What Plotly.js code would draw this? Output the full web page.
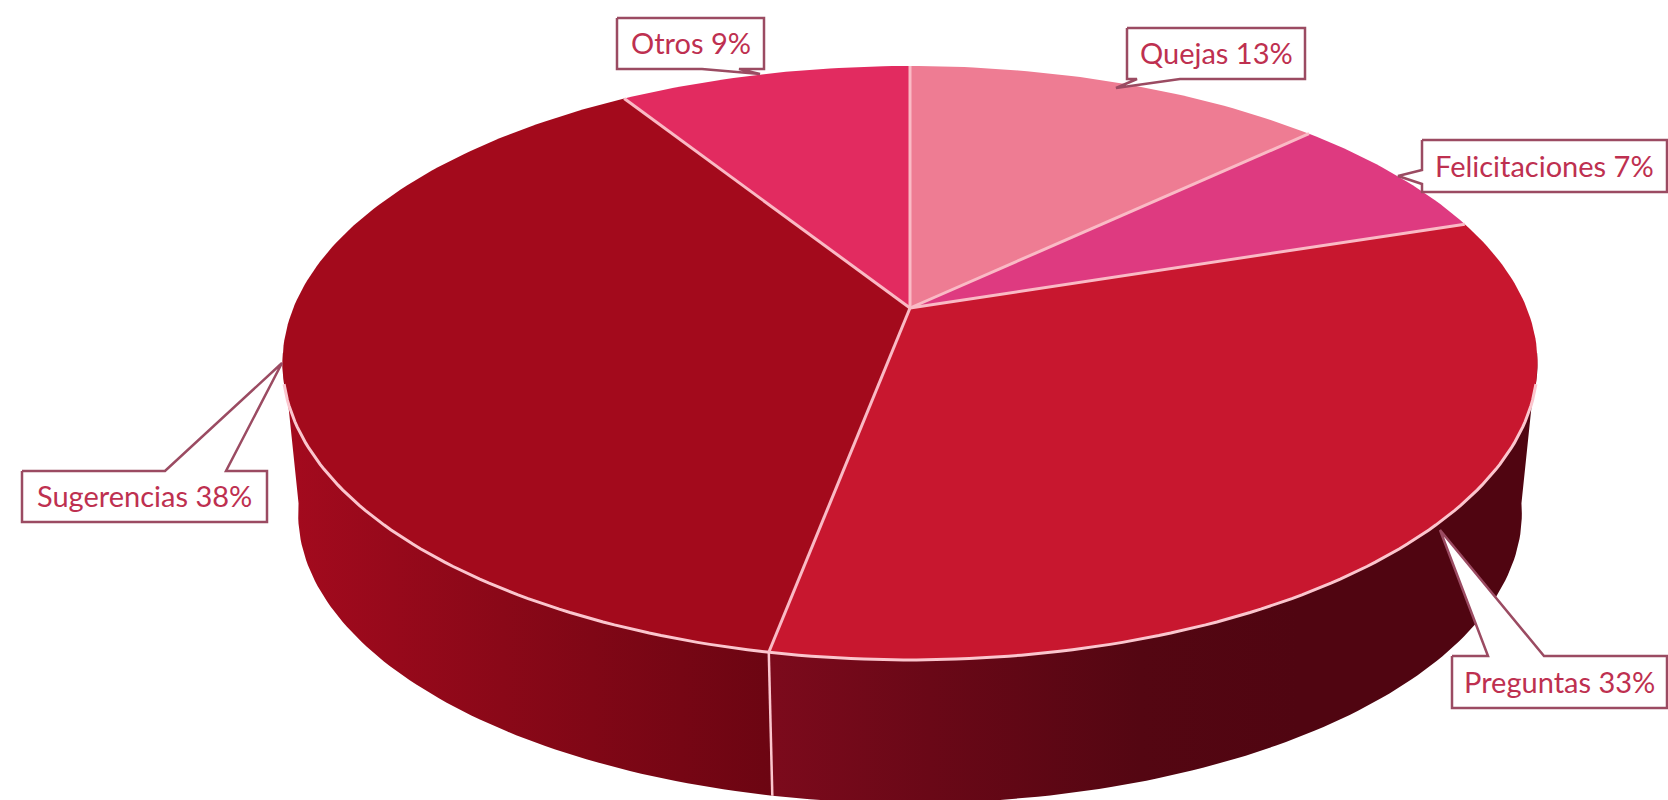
<!DOCTYPE html>
<html>
<head>
<meta charset="utf-8">
<script src="https://cdn.plot.ly/plotly-3.0.1.min.js"></script>
<style>html,body{margin:0;padding:0;background:#fff}#chart{width:1668px;height:800px}</style>
</head>
<body>
<div id="chart"></div>
<script>
// Data, clockwise from the top of the pie, starting at Quejas
const categories = ['Quejas', 'Felicitaciones', 'Preguntas', 'Sugerencias', 'Otros'];
const percents = [13, 7, 33, 38, 9];
const topColors = ['#EE7C93', '#DE3A80', '#C8172F', '#A30A1C', '#E22B60'];

// Projection of the tilted disc onto the x/y axes (axes run in pixels of the picture)
const view = {cx: 910, top: 308, a: 616.7, b: 286.8, k: 0.185, floor: 460, floorScale: 0.975};
const rimColor = '#FBC6CE';
const spokeColor = '#FABAC5';
const boxLine = '#9B4B62';
const labelColor = '#BE3050';

function topPt(deg) {
  const t = deg * Math.PI / 180, X = Math.sin(t), Y = Math.cos(t), w = 1 + view.k * Y;
  return [view.cx + view.a * X / w, view.top - view.b * Y / w];
}
function floorPt(deg) {
  const t = deg * Math.PI / 180, X = Math.sin(t), Y = Math.cos(t), w = 1 + view.k * Y, s = view.floorScale;
  return [view.cx + s * view.a * X / w, view.floor - s * view.b * Y / w];
}
function arc(fn, a, b) {
  const n = Math.max(4, Math.ceil(Math.abs(b - a)));
  const out = [];
  for (let i = 0; i <= n; i++) out.push(fn(a + (b - a) * i / n));
  return out;
}
function xs(p) { return p.map(q => q[0]); }
function ys(p) { return p.map(q => q[1]); }

// Slice boundaries in degrees, from the values
const edges = [0];
percents.forEach(v => edges.push(edges[edges.length - 1] + v * 3.6));
const iPreg = categories.indexOf('Preguntas');
const tangentR = Math.acos(-view.k) * 180 / Math.PI;
const tangentL = 360 - tangentR;

const traces = [];
function poly(pts, extra) {
  traces.push(Object.assign({
    type: 'scatter', mode: 'lines', x: xs(pts), y: ys(pts), fill: 'toself',
    line: {width: 0}, hoverinfo: 'skip', showlegend: false
  }, extra));
}
function stroke(pts, color, width) {
  traces.push({type: 'scatter', mode: 'lines', x: xs(pts), y: ys(pts),
    line: {color: color, width: width}, hoverinfo: 'skip', showlegend: false});
}

// Side walls
function wall(a, b, scale, start, stop) {
  const pts = arc(topPt, a, b).concat(arc(floorPt, b, a));
  pts.push(pts[0]);
  poly(pts, {fillcolor: scale[0][1],
    fillgradient: {type: 'horizontal', start: start, stop: stop, colorscale: scale}});
}
wall(edges[iPreg + 1], tangentL + 2,
  [[0, '#6C0512'], [0.55, '#8A0818'], [1, '#A40A1E']], 771, 283);
wall(tangentR - 2, edges[iPreg + 1],
  [[0, '#7C0A1C'], [0.3, '#6A0817'], [0.7, '#540612'], [1, '#500511']], 771, 1300);

// Top faces
percents.forEach((v, i) => {
  const pts = [[view.cx, view.top]].concat(arc(topPt, edges[i], edges[i + 1]));
  pts.push([view.cx, view.top]);
  poly(pts, {fillcolor: topColors[i], name: categories[i]});
});

// Rim and seams
stroke(arc(topPt, tangentR + 4, tangentL - 4), rimColor, 3);
stroke([topPt(edges[iPreg + 1]), floorPt(edges[iPreg + 1])], rimColor, 2.5);
edges.slice(0, -1).forEach(e => stroke([[view.cx, view.top], topPt(e)], spokeColor, 3));

// Callouts: box with its pointer, then the label
const callouts = {
  Quejas:         {box: [1127, 28, 1305, 79],  path: [[1137, 79], [1116, 88], [1180, 79]], side: 'bottom'},
  Felicitaciones: {box: [1422, 140, 1667, 192], path: [[1422, 170], [1398, 176], [1422, 184]], side: 'left'},
  Preguntas:      {box: [1452, 656, 1667, 708], path: [[1488, 656], [1440, 530], [1544, 656]], side: 'top'},
  Sugerencias:    {box: [22, 471, 267, 522],   path: [[165, 471], [282, 363], [226, 471]], side: 'top'},
  Otros:          {box: [617, 18, 764, 69],    path: [[702, 69], [760, 74], [739, 69]], side: 'bottom'}
};
const annotations = [];
categories.forEach((c, i) => {
  const co = callouts[c], [x0, y0, x1, y1] = co.box;
  const back = co.path.slice().reverse();
  let outline;
  if (co.side === 'left') {
    outline = [[x0, y0], [x1, y0], [x1, y1], [x0, y1]].concat(back);
  } else if (co.side === 'bottom') {
    outline = [[x0, y0], [x1, y0], [x1, y1]].concat(back).concat([[x0, y1]]);
  } else {
    outline = [[x0, y0]].concat(co.path).concat([[x1, y0], [x1, y1], [x0, y1]]);
  }
  outline.push(outline[0]);
  traces.push({type: 'scatter', mode: 'lines', x: xs(outline), y: ys(outline), fill: 'toself',
    fillcolor: '#FFFFFF', line: {color: boxLine, width: 2.5}, hoverinfo: 'skip', showlegend: false});
  annotations.push({x: (x0 + x1) / 2, y: (y0 + y1) / 2 - 1, xref: 'x', yref: 'y', showarrow: false,
    text: c + ' ' + percents[i] + '%', font: {family: 'Lato, sans-serif', size: 29, color: labelColor},
    xanchor: 'center', yanchor: 'middle'});
});

Plotly.newPlot('chart', traces, {
  width: 1668, height: 800, margin: {l: 0, r: 0, t: 0, b: 0},
  paper_bgcolor: '#FFFFFF', plot_bgcolor: '#FFFFFF', showlegend: false,
  xaxis: {range: [0, 1668], visible: false, fixedrange: true},
  yaxis: {range: [800, 0], visible: false, fixedrange: true},
  annotations: annotations
}, {displayModeBar: false, staticPlot: true});
</script>
</body>
</html>
